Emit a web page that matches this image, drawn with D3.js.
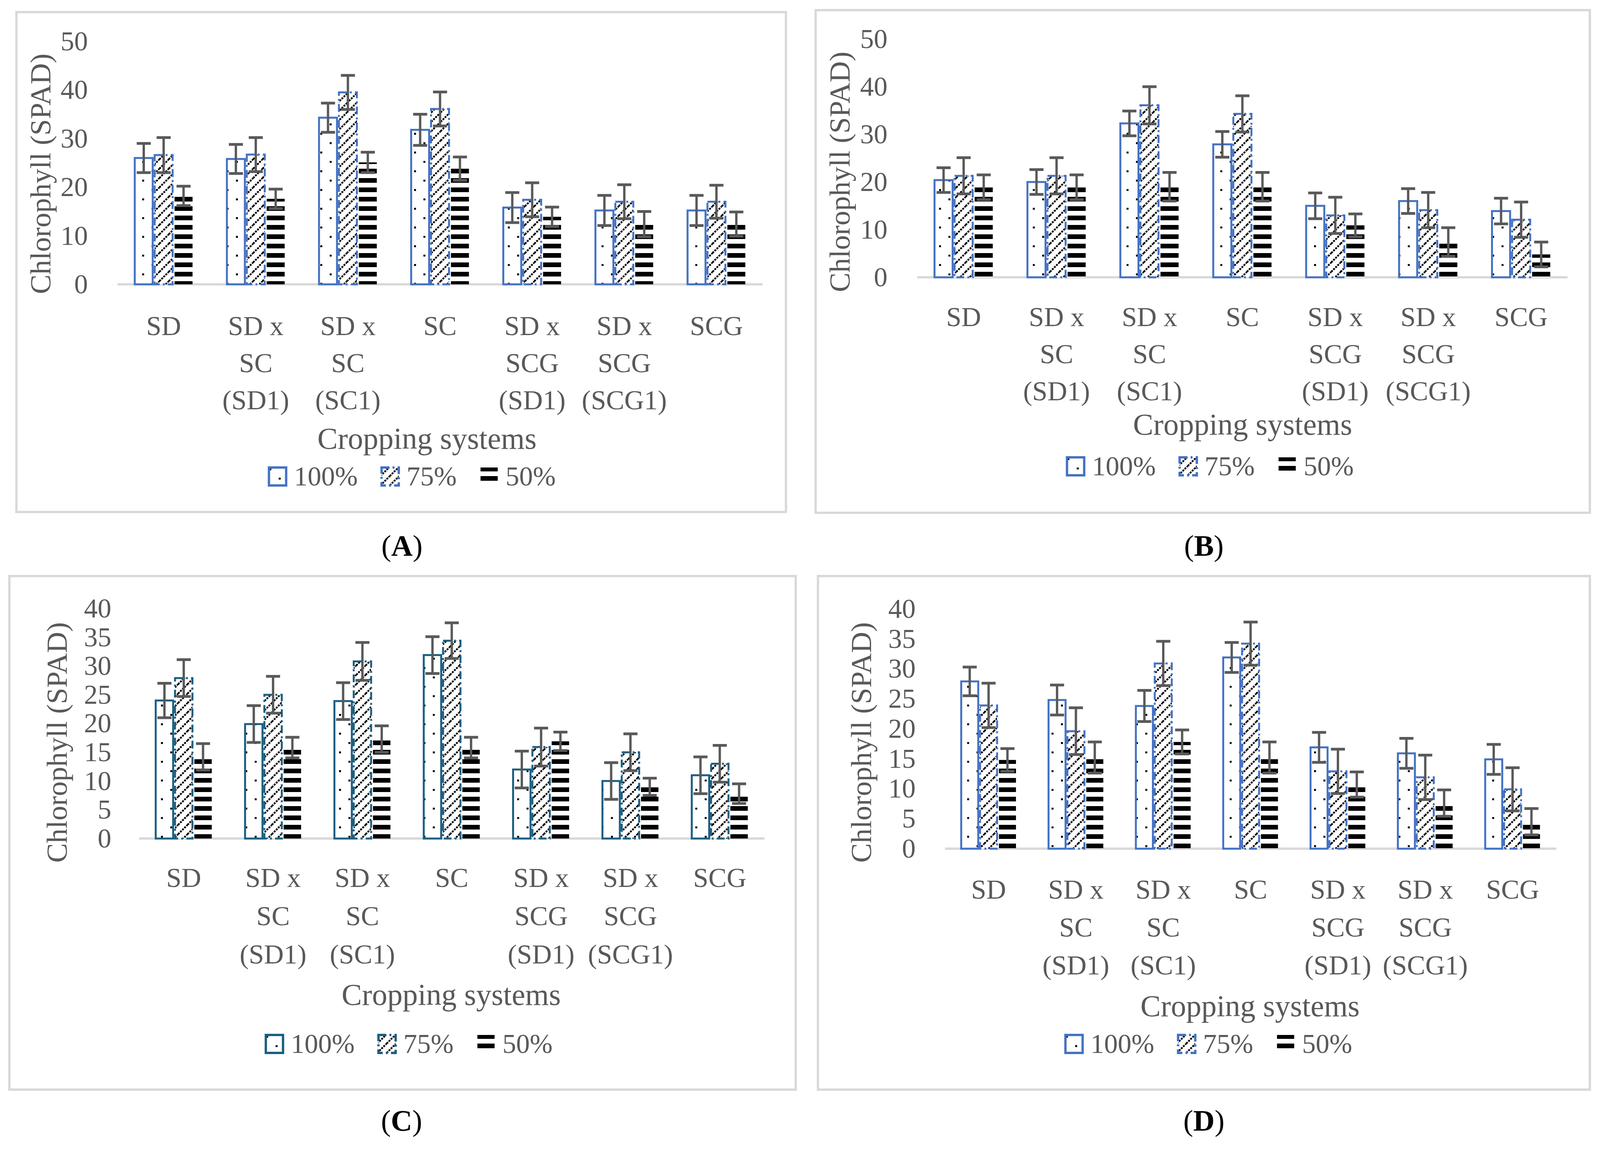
<!DOCTYPE html>
<html>
<head>
<meta charset="utf-8">
<script src="https://cdn.jsdelivr.net/npm/d3@7"></script>
<style>
  body { margin: 0; background: #fff; }
  text { font-family: "Liberation Serif", "Times New Roman", serif; }
</style>
</head>
<body>
<div id="chart"></div>
<script>
// categories and series
const categories = ["SD", "SD x SC (SD1)", "SD x SC (SC1)", "SC", "SD x SCG (SD1)", "SD x SCG (SCG1)", "SCG"];
const categoryLines = [["SD"], ["SD x", "SC", "(SD1)"], ["SD x", "SC", "(SC1)"], ["SC"],
                       ["SD x", "SCG", "(SD1)"], ["SD x", "SCG", "(SCG1)"], ["SCG"]];
const seriesNames = ["100%", "75%", "50%"];

// panel A
const a100 = [26.0, 25.8, 34.3, 31.8, 15.8, 15.2, 15.2];
const a75  = [26.6, 26.7, 39.5, 36.1, 17.4, 17.0, 17.0];
const a50  = [18.2, 17.6, 25.1, 23.8, 13.9, 12.4, 12.4];
const aErr100 = [3.0, 3.0, 3.0, 3.2, 3.1, 3.1, 3.1];
const aErr75  = [3.6, 3.5, 3.5, 3.5, 3.5, 3.5, 3.4];
const aErr50  = [2.0, 2.0, 2.1, 2.4, 2.0, 2.6, 2.5];

// panel B
const b100 = [20.4, 20.0, 32.3, 27.9, 15.0, 16.0, 13.9];
const b75  = [21.3, 21.3, 36.1, 34.3, 13.0, 14.1, 12.1];
const b50  = [18.9, 18.9, 19.0, 19.0, 10.9, 7.4, 4.8];
const bErr100 = [2.6, 2.6, 2.6, 2.7, 2.7, 2.6, 2.7];
const bErr75  = [3.8, 3.8, 3.9, 3.8, 3.8, 3.7, 3.7];
const bErr50  = [2.6, 2.6, 3.0, 3.0, 2.4, 3.0, 2.6];

// panel C
const c100 = [24.0, 19.9, 23.9, 31.9, 12.0, 10.0, 11.0];
const c75  = [27.9, 25.0, 30.8, 34.4, 15.9, 15.0, 13.0];
const c50  = [14.2, 15.8, 17.3, 15.8, 16.9, 9.0, 7.8];
const cErr100 = [3.0, 3.2, 3.2, 3.2, 3.2, 3.2, 3.2];
const cErr75  = [3.2, 3.2, 3.3, 3.1, 3.3, 3.2, 3.2];
const cErr50  = [2.3, 1.8, 2.3, 1.8, 1.6, 1.5, 1.7];

// panel D
const d100 = [27.9, 24.8, 23.8, 31.9, 16.9, 15.9, 14.9];
const d75  = [23.9, 19.6, 30.9, 34.2, 12.9, 11.9, 9.9];
const d50  = [14.8, 15.2, 17.8, 15.2, 10.7, 7.6, 4.5];
const dErr100 = [2.4, 2.5, 2.6, 2.5, 2.5, 2.5, 2.5];
const dErr75  = [3.7, 3.9, 3.7, 3.6, 3.7, 3.7, 3.6];
const dErr50  = [1.9, 2.6, 2.0, 2.6, 2.1, 2.2, 2.2];

const W = 4102, H = 2942;
const textColor = "#595959";
const gridGrey = "#d9d9d9";

const panels = [
  { label: "A", values: [a100, a75, a50], errors: [aErr100, aErr75, aErr50], yMax: 50, yStep: 10, outline: "#4472C4",
    box: [42, 31, 2012, 1311], y0: 728, yTop: 106, ax0: 301, ax1: 1952, tickRight: 225,
    yTitleX: 129, yTitleY: 445, catY: 858, catStep: 95, xTitleX: 1093, xTitleY: 1149,
    legX: 1054, legY: 1243, labX: 1029, labY: 1423 },
  { label: "B", values: [b100, b75, b50], errors: [bErr100, bErr75, bErr50], yMax: 50, yStep: 10, outline: "#4472C4",
    box: [2088, 26, 4070, 1313], y0: 710, yTop: 100, ax0: 2348, ax1: 4013, tickRight: 2272,
    yTitleX: 2175, yTitleY: 440, catY: 835, catStep: 95, xTitleX: 3181, xTitleY: 1113,
    legX: 3097, legY: 1217, labX: 3082, labY: 1423 },
  { label: "C", values: [c100, c75, c50], errors: [cErr100, cErr75, cErr50], yMax: 40, yStep: 5, outline: "#1a5f82",
    box: [24, 1475, 2037, 2790], y0: 2147, yTop: 1558, ax0: 356, ax1: 1957, tickRight: 285,
    yTitleX: 171, yTitleY: 1901, catY: 2271, catStep: 98, xTitleX: 1155, xTitleY: 2573,
    legX: 1046, legY: 2696, labX: 1028, labY: 2895 },
  { label: "D", values: [d100, d75, d50], errors: [dErr100, dErr75, dErr50], yMax: 40, yStep: 5, outline: "#4472C4",
    box: [2094, 1475, 4070, 2790], y0: 2173, yTop: 1559, ax0: 2419, ax1: 3984, tickRight: 2344,
    yTitleX: 2230, yTitleY: 1901, catY: 2301, catStep: 97, xTitleX: 3200, xTitleY: 2602,
    legX: 3093, legY: 2696, labX: 3082, labY: 2895 }
];

const svg = d3.select("#chart").append("svg")
  .attr("width", W).attr("height", H)
  .attr("viewBox", `0 0 ${W} ${H}`);

const defs = svg.append("defs");

// sparse dots (100%)
const dots = defs.append("pattern").attr("id", "dots")
  .attr("patternUnits", "userSpaceOnUse").attr("width", 48).attr("height", 48);
dots.append("rect").attr("width", 48).attr("height", 48).attr("fill", "#fff");
dots.append("rect").attr("x", 4).attr("y", 4).attr("width", 5).attr("height", 5).attr("fill", "#000");
dots.append("rect").attr("x", 28).attr("y", 28).attr("width", 5).attr("height", 5).attr("fill", "#000");

// upward diagonal hatch (75%)
const hatch = defs.append("pattern").attr("id", "hatch")
  .attr("patternUnits", "userSpaceOnUse").attr("width", 24).attr("height", 24);
hatch.append("rect").attr("width", 24).attr("height", 24).attr("fill", "#fff");
hatch.append("path")
  .attr("d", "M-6,6 L6,-6 M0,24 L24,0 M18,30 L30,18")
  .attr("stroke", "#000").attr("stroke-width", 4.5)
  .attr("stroke-dasharray", "5,2.5");

// horizontal stripes (50%)
const stripes = defs.append("pattern").attr("id", "stripes")
  .attr("patternUnits", "userSpaceOnUse").attr("width", 24).attr("height", 24);
stripes.append("rect").attr("width", 24).attr("height", 24).attr("fill", "#fff");
stripes.append("rect").attr("y", 0).attr("width", 24).attr("height", 12).attr("fill", "#000");

const fills = ["url(#dots)", "url(#hatch)", "url(#stripes)"];
const dashes = [null, "20,8,5,8", null];

function styleBar(sel, i, outline) {
  sel.attr("fill", fills[i])
    .attr("stroke", i === 2 ? "none" : outline)
    .attr("stroke-width", 5)
    .attr("stroke-dasharray", dashes[i]);
}

function drawPanel(p) {
  const g = svg.append("g");

  g.append("rect")
    .attr("x", p.box[0]).attr("y", p.box[1])
    .attr("width", p.box[2] - p.box[0]).attr("height", p.box[3] - p.box[1])
    .attr("fill", "#fff").attr("stroke", gridGrey).attr("stroke-width", 6);

  const x = d3.scaleBand().domain(categories).range([p.ax0, p.ax1]);
  const y = d3.scaleLinear().domain([0, p.yMax]).range([p.y0, p.yTop]);
  const band = x.bandwidth();
  const bw = band * 0.195, gap = band * 0.021;
  const groupW = 3 * bw + 2 * gap;
  const barX = (c, i) => x(c) + (band - groupW) / 2 + i * (bw + gap);

  // horizontal axis line
  g.append("line")
    .attr("x1", p.ax0).attr("x2", p.ax1)
    .attr("y1", p.y0).attr("y2", p.y0)
    .attr("stroke", gridGrey).attr("stroke-width", 6);

  // y tick labels
  g.append("g")
    .attr("transform", `translate(${p.tickRight},0)`)
    .call(d3.axisLeft(y).tickValues(d3.range(0, p.yMax + 1, p.yStep)).tickSize(0).tickPadding(0))
    .attr("font-size", null).attr("font-family", null)
    .call(a => a.select(".domain").remove())
    .selectAll("text")
    .attr("fill", textColor).style("font-size", "70px");

  // bars
  p.values.forEach((vals, i) => {
    g.append("g").selectAll("rect")
      .data(vals)
      .join("rect")
      .attr("x", (d, j) => barX(categories[j], i))
      .attr("y", d => y(d))
      .attr("width", bw)
      .attr("height", d => y(0) - y(d))
      .call(sel => styleBar(sel, i, p.outline));
  });

  // error bars
  p.values.forEach((vals, i) => {
    const eg = g.append("g").attr("stroke", "#595959").attr("fill", "none");
    vals.forEach((v, j) => {
      const cx = barX(categories[j], i) + bw / 2;
      const e = p.errors[i][j];
      const top = y(v + e), bot = y(v - e);
      eg.append("line").attr("x1", cx).attr("x2", cx).attr("y1", top).attr("y2", bot).attr("stroke-width", 6);
      eg.append("line").attr("x1", cx - 18).attr("x2", cx + 18).attr("y1", top).attr("y2", top).attr("stroke-width", 7);
      eg.append("line").attr("x1", cx - 18).attr("x2", cx + 18).attr("y1", bot).attr("y2", bot).attr("stroke-width", 7);
    });
  });

  // category labels
  const xa = g.append("g")
    .attr("transform", `translate(0,${p.catY})`)
    .call(d3.axisBottom(x).tickSize(0).tickPadding(0))
    .attr("font-size", null).attr("font-family", null);
  xa.select(".domain").remove();
  xa.selectAll("text")
    .attr("y", 0).attr("dy", null)
    .attr("fill", textColor).style("font-size", "70px")
    .text(null)
    .each(function (d, j) {
      const t = d3.select(this);
      categoryLines[j].forEach((line, k) => {
        t.append("tspan").attr("x", 0).attr("y", k * p.catStep).text(line);
      });
    });

  // axis titles
  g.append("text")
    .attr("transform", `translate(${p.yTitleX},${p.yTitleY}) rotate(-90)`)
    .attr("text-anchor", "middle")
    .attr("fill", textColor).style("font-size", "75px")
    .text("Chlorophyll (SPAD)");

  g.append("text")
    .attr("x", p.xTitleX).attr("y", p.xTitleY)
    .attr("text-anchor", "middle")
    .attr("fill", textColor).style("font-size", "78px")
    .text("Cropping systems");

  // legend
  const leg = g.append("g");
  let cur = 0;
  const items = seriesNames.map((name, i) => {
    const it = leg.append("g").attr("transform", `translate(${cur},0)`);
    it.append("rect")
      .attr("x", 3).attr("y", -46).attr("width", 44).attr("height", 46)
      .call(sel => styleBar(sel, i, p.outline))
      .attr("stroke-width", 6);
    const t = it.append("text")
      .attr("x", 67).attr("y", 0)
      .attr("fill", textColor).style("font-size", "70px")
      .text(name);
    const w = 67 + t.node().getComputedTextLength();
    cur += w + 58;
    return w;
  });
  const total = cur - 58;
  leg.attr("transform", `translate(${p.legX - total / 2},${p.legY})`);

  // panel label
  const lab = svg.append("text")
    .attr("x", p.labX).attr("y", p.labY)
    .attr("text-anchor", "middle")
    .attr("fill", "#000").style("font-size", "76px");
  lab.append("tspan").text("(");
  lab.append("tspan").attr("font-weight", "bold").text(p.label);
  lab.append("tspan").text(")");
}

panels.forEach(drawPanel);
</script>
</body>
</html>
